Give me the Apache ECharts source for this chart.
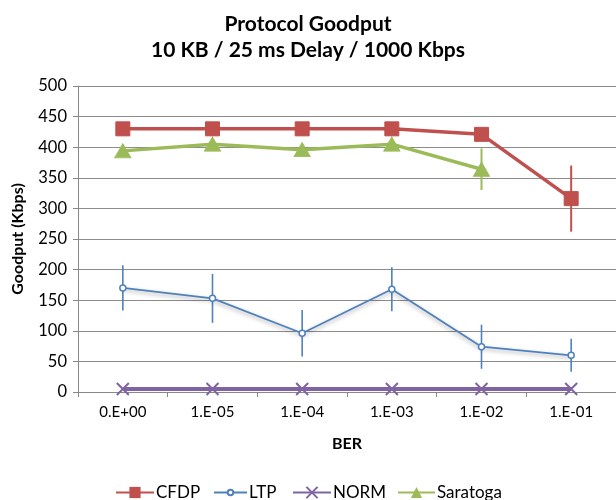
<!DOCTYPE html>
<html><head><meta charset="utf-8">
<script src="https://cdn.jsdelivr.net/npm/echarts@6/dist/echarts.min.js"></script>
<style>html,body{margin:0;padding:0;background:#fff}#c{width:616px;height:500px}</style>
</head><body><div id="c"></div>
<script>
const categories = ['0.E+00','1.E-05','1.E-04','1.E-03','1.E-02','1.E-01'];
const cfdp = [430, 430, 430, 430, 421, 316];
const cfdpErr = [0, 0, 0, 0, 0, 54];
const ltp = [170, 153, 96, 168, 74, 60];
const ltpErr = [37, 40, 38, 36, 36, 27];
const norm = [5, 5, 5, 5, 5, 5];
const saratoga = [394, 405, 396, 405, 364, null];
const saratogaErr = [0, 0, 0, 0, 34, 0];
const yTicks = [0, 500, 50];

const FONT = 'Lato, "Open Sans", sans-serif';
const C = {cfdp:'#C0504D', ltp:'#4F81BD', norm:'#8064A2', sara:'#9BBB59'};

function errSeries(vals, errs, color, width) {
  const data = vals.map((v, i) => (v == null || !errs[i]) ? null : [i, v - errs[i], v + errs[i]]).filter(d => d);
  return {
    type: 'custom', silent: true, z: 1,
    data: data,
    renderItem: function (params, api) {
      const lo = api.coord([api.value(0), api.value(1)]);
      const hi = api.coord([api.value(0), api.value(2)]);
      return {type: 'line', shape: {x1: lo[0], y1: lo[1], x2: hi[0], y2: hi[1]},
        style: {stroke: color, lineWidth: width}};
    }
  };
}

function legendAt(name, left, top, w, h) {
  return {
    left: left, top: top, itemWidth: w, itemHeight: h, padding: 0,
    data: [name],
    textStyle: {fontFamily: FONT, fontSize: 17, color: '#000', padding: [0,0,0,-3]}
  };
}

const chart = echarts.init(document.getElementById('c'), null, {renderer: 'canvas'});
chart.setOption({
  animation: false,
  backgroundColor: '#fff',
  title: {
    text: 'Protocol Goodput\n10 KB / 25 ms Delay / 1000 Kbps',
    left: 'center', top: 6,
    textStyle: {fontFamily: FONT, fontSize: 21, fontWeight: 'bold', color: '#000', lineHeight: 26}
  },
  grid: {left: 78, right: 0, top: 86, bottom: 108, containLabel: false, outerBoundsMode: 'none'},
  legend: [
    legendAt('CFDP', 115, 484, 38, 14),
    legendAt('LTP', 213, 484, 33, 7),
    legendAt('NORM', 292, 484, 38, 14),
    legendAt('Saratoga', 397, 484, 37, 14)
  ],
  xAxis: {
    type: 'category', data: categories, boundaryGap: true,
    name: 'BER', nameLocation: 'middle', nameGap: 44,
    nameTextStyle: {fontFamily: FONT, fontSize: 16, fontWeight: 'bold', color: '#000'},
    axisLine: {lineStyle: {color: '#888', width: 1}},
    axisTick: {show: true, length: 5, lineStyle: {color: '#888'}},
    axisLabel: {fontFamily: FONT, fontSize: 15, color: '#000', margin: 13}
  },
  yAxis: {
    type: 'value', min: yTicks[0], max: yTicks[1], interval: yTicks[2],
    name: 'Goodput (Kbps)', nameLocation: 'middle', nameGap: 52, nameRotate: 90,
    nameTextStyle: {fontFamily: FONT, fontSize: 16, fontWeight: 'bold', color: '#000'},
    axisLine: {show: true, lineStyle: {color: '#888'}},
    axisTick: {show: true, length: 5, lineStyle: {color: '#888'}},
    axisLabel: {fontFamily: FONT, fontSize: 16.5, color: '#000', margin: 11},
    splitLine: {lineStyle: {color: '#8c8c8c', width: 1}}
  },
  series: [
    errSeries(cfdp, cfdpErr, C.cfdp, 2),
    errSeries(ltp, ltpErr, C.ltp, 1.6),
    errSeries(saratoga, saratogaErr, C.sara, 2),
    {name: 'NORM', type: 'line', data: norm, z: 3,
     lineStyle: {color: C.norm, width: 4},
     symbol: 'path://M0,0 L10,10 M10,0 L0,10', symbolSize: 12,
     itemStyle: {color: 'rgba(0,0,0,0)', borderColor: C.norm, borderWidth: 2}},
    {name: 'LTP', type: 'line', data: ltp, z: 3,
     lineStyle: {color: C.ltp, width: 1.8, shadowColor: 'rgba(0,0,0,0.35)', shadowBlur: 4, shadowOffsetY: 2},
     symbol: 'circle', symbolSize: 6, showAllSymbol: true,
     itemStyle: {color: '#fff', borderColor: C.ltp, borderWidth: 1.5}},
    {name: 'Saratoga', type: 'line', data: saratoga, z: 4,
     lineStyle: {color: C.sara, width: 3.5},
     symbol: 'triangle', symbolSize: [16, 14],
     itemStyle: {color: C.sara, borderColor: C.sara}},
    {name: 'CFDP', type: 'line', data: cfdp, z: 5,
     lineStyle: {color: C.cfdp, width: 3.5},
     symbol: 'rect', symbolSize: 14,
     itemStyle: {color: C.cfdp, borderColor: C.cfdp}}
  ]
});
</script></body></html>
